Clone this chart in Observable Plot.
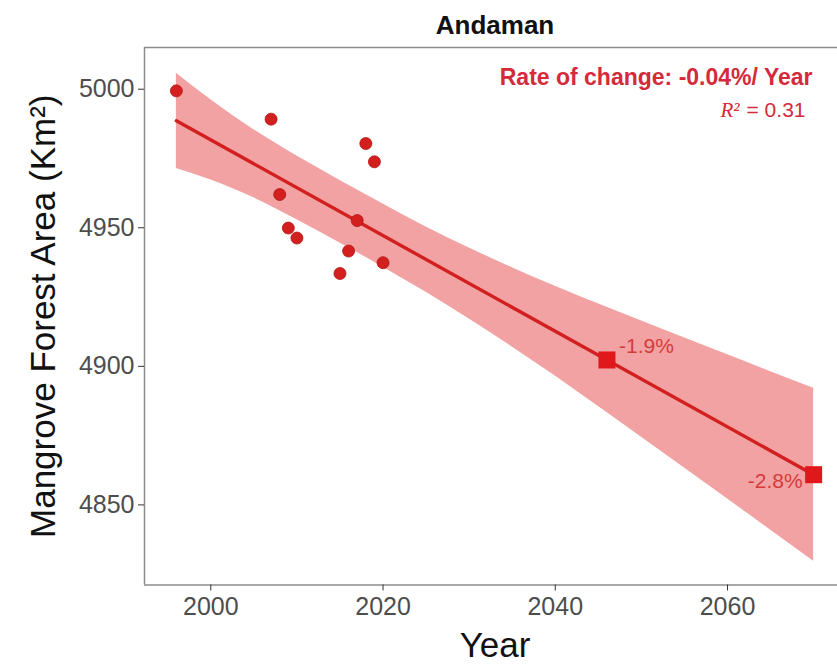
<!DOCTYPE html>
<html>
<head>
<meta charset="utf-8">
<script src="https://cdn.jsdelivr.net/npm/d3@7"></script>
<script src="https://cdn.jsdelivr.net/npm/@observablehq/plot@0.6"></script>
<style>
  html, body { margin: 0; padding: 0; background: #fff; overflow: hidden; }
  #chart svg { display: block; }
</style>
</head>
<body>
<div id="chart"></div>
<script>
// Observed mangrove area (km²)
const obsYears = [1996, 2007, 2008, 2009, 2010, 2015, 2016, 2017, 2018, 2019, 2020];
const obsArea  = [4999.4, 4989.2, 4962.0, 4949.9, 4946.3, 4933.5, 4941.6, 4952.6, 4980.4, 4973.8, 4937.4];

// Fitted trend line
const fitYears = [1996, 2070];
const fitArea  = [4988.6, 4860.9];

// Confidence band
const bandYears = [1996, 2000, 2005, 2010, 2015, 2020, 2025, 2030, 2035, 2040, 2046, 2058, 2070];
const bandUpper = [5005.8, 4996.2, 4985.4, 4975.9, 4967.1, 4958.6, 4950.3, 4942.7, 4935.6, 4928.9, 4921.3, 4906.6, 4892.1];
const bandLower = [4971.4, 4967.2, 4960.8, 4952.9, 4944.5, 4935.8, 4926.7, 4917.1, 4907.0, 4896.5, 4883.3, 4856.6, 4829.7];

// Projections
const projYears  = [2046, 2070];
const projArea   = [4902.3, 4860.9];
const projLabels = ["-1.9%", "-2.8%"];

// Axes
const xTicks = [2000, 2020, 2040, 2060];
const yTicks = [4850, 4900, 4950, 5000];
const xDomain = [1992.3, 2073.7];
const yDomain = [4821.1, 5015.05];

const titleText = "Andaman";
const xTitle = "Year";
const yTitle = "Mangrove Forest Area (Km²)";
const rateText = "Rate of change: -0.04%/ Year";
const r2Symbol = "R²";
const r2Value = "= 0.31";

const obs  = obsYears.map((year, i) => ({year, area: obsArea[i]}));
const fit  = fitYears.map((year, i) => ({year, area: fitArea[i]}));
const band = bandYears.map((year, i) => ({year, upper: bandUpper[i], lower: bandLower[i]}));
const proj = projYears.map((year, i) => ({year, area: projArea[i], label: projLabels[i]}));

const red = "#d21f1f";
const textRed = "#d42a3a";

const chart = Plot.plot({
  width: 837,
  height: 666,
  marginTop: 47,
  marginBottom: 81.5,
  marginLeft: 144,
  marginRight: 0,
  style: {fontFamily: "'Liberation Sans', Arial, sans-serif", background: "#fff"},
  x: {domain: xDomain, range: [144, 845]},
  y: {domain: yDomain},
  marks: [
    Plot.areaY(band, {x: "year", y1: "lower", y2: "upper", fill: "#f2a2a2", curve: "monotone-x"}),
    Plot.ruleX([xDomain[0]], {stroke: "#8c8c8c", strokeWidth: 1.5}),
    Plot.ruleY(yDomain, {stroke: "#8c8c8c", strokeWidth: 1.5}),
    Plot.axisX({ticks: xTicks, tickSize: 6, tickPadding: 6, fontSize: 25, stroke: "#333", fill: "#4d4d4d", label: null, tickFormat: d => String(d)}),
    Plot.axisY({ticks: yTicks, tickSize: 6, tickPadding: 4, fontSize: 25, stroke: "#333", fill: "#4d4d4d", label: null, tickFormat: d => String(d)}),
    Plot.line(fit, {x: "year", y: "area", stroke: red, strokeWidth: 3.4}),
    Plot.dot(obs, {x: "year", y: "area", r: 6, fill: "#d41f1f", stroke: "#b01414", strokeWidth: 0.8}),
    Plot.dot(proj, {x: "year", y: "area", symbol: "square", r: 9.6, fill: "#e0181c", stroke: "none"}),
    Plot.text(proj.slice(0, 1), {x: "year", y: "area", text: "label", textAnchor: "start", lineAnchor: "middle", dx: 12, dy: -14, fontSize: 21, fill: "#d43c3c"}),
    Plot.text(proj.slice(1), {x: "year", y: "area", text: "label", textAnchor: "end", lineAnchor: "middle", dx: -11, dy: 7, fontSize: 21, fill: "#d43c3c"}),
    Plot.text([rateText], {frameAnchor: "top-right", textAnchor: "end", lineAnchor: "bottom", dx: -25, dy: 37, fontSize: 23, fontWeight: "bold", fill: textRed}),
    Plot.text([r2Value], {frameAnchor: "top-right", textAnchor: "end", lineAnchor: "bottom", dx: -32, dy: 69.5, fontSize: 21, fill: textRed}),
    Plot.text([r2Symbol], {frameAnchor: "top-right", textAnchor: "end", lineAnchor: "bottom", dx: -98, dy: 69.5, fontSize: 21, fontStyle: "italic", fontFamily: "'Liberation Serif', 'Times New Roman', serif", fill: textRed}),
    Plot.text([titleText], {frameAnchor: "top", textAnchor: "middle", lineAnchor: "bottom", dx: 4, dy: -14, fontSize: 26, fontWeight: "bold", fill: "#111"}),
    Plot.text([xTitle], {frameAnchor: "bottom", textAnchor: "middle", lineAnchor: "bottom", dx: 4, dy: 71.5, fontSize: 35, fill: "#111"}),
    Plot.text([yTitle], {frameAnchor: "left", textAnchor: "middle", lineAnchor: "middle", rotate: -90, dx: -101, fontSize: 35, fill: "#111"})
  ]
});
document.getElementById("chart").appendChild(chart);
</script>
</body>
</html>
